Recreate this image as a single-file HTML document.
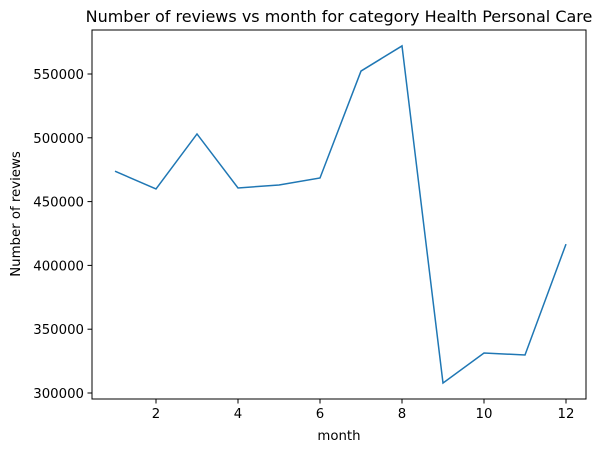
<!DOCTYPE html>
<html><head><meta charset="utf-8"><style>
body{margin:0;background:#fff;}
svg{display:block;font-family:"DejaVu Sans","Liberation Sans",sans-serif;}
</style></head><body>
<svg id="chart" width="614" height="453">
<text x="339" y="22" font-size="16" text-anchor="middle">Number of reviews vs month for category Health Personal Care</text>
<rect x="92" y="30" width="494" height="369" fill="none" stroke="#000" stroke-width="1"/>
<g id="xt"></g>
<g id="yt"></g>
<text x="339" y="440" font-size="13.3" text-anchor="middle">month</text>
<text x="20" y="214" font-size="13.3" text-anchor="middle" transform="rotate(-90 20 214)">Number of reviews</text>
<path id="line" fill="none" stroke="#1f77b4" stroke-width="1.5"/>
</svg>
<script>
const months=[1,2,3,4,5,6,7,8,9,10,11,12];
const reviews=[473800,459900,503000,460700,463000,468500,552300,572000,307800,331300,329800,416700];
const xTicks=[2,4,6,8,10,12];
const yTicks=[300000,350000,400000,450000,500000,550000];
const NS="http://www.w3.org/2000/svg";
function xs(m){return 115+(m-1)*41;}
function ys(v){return 393-(v-300000)/50000*63.8;}
const xt=document.getElementById('xt'),yt=document.getElementById('yt');
xTicks.forEach(t=>{
 const l=document.createElementNS(NS,'line');
 l.setAttribute('x1',xs(t));l.setAttribute('x2',xs(t));l.setAttribute('y1',399);l.setAttribute('y2',403.5);l.setAttribute('stroke','#000');
 
 
 xt.appendChild(l);
 const s=document.createElementNS(NS,'text');
 s.setAttribute('x',xs(t));s.setAttribute('y',418);s.setAttribute('font-size','13.3');s.setAttribute('text-anchor','middle');s.textContent=t;
 
 
 xt.appendChild(s);
});
yTicks.forEach(t=>{
 const l=document.createElementNS(NS,'line');
 l.setAttribute('x1',87.5);l.setAttribute('x2',92);l.setAttribute('y1',ys(t));l.setAttribute('y2',ys(t));l.setAttribute('stroke','#000');
 
 
 yt.appendChild(l);
 const s=document.createElementNS(NS,'text');
 s.setAttribute('x',84);s.setAttribute('y',ys(t)+5);s.setAttribute('font-size','13.3');s.setAttribute('text-anchor','end');s.textContent=t;
 
 
 yt.appendChild(s);
});
document.getElementById('line').setAttribute('d',months.map((m,i)=>(i?'L':'M')+xs(m)+','+ys(reviews[i])).join(' '));
</script>
</body></html>
